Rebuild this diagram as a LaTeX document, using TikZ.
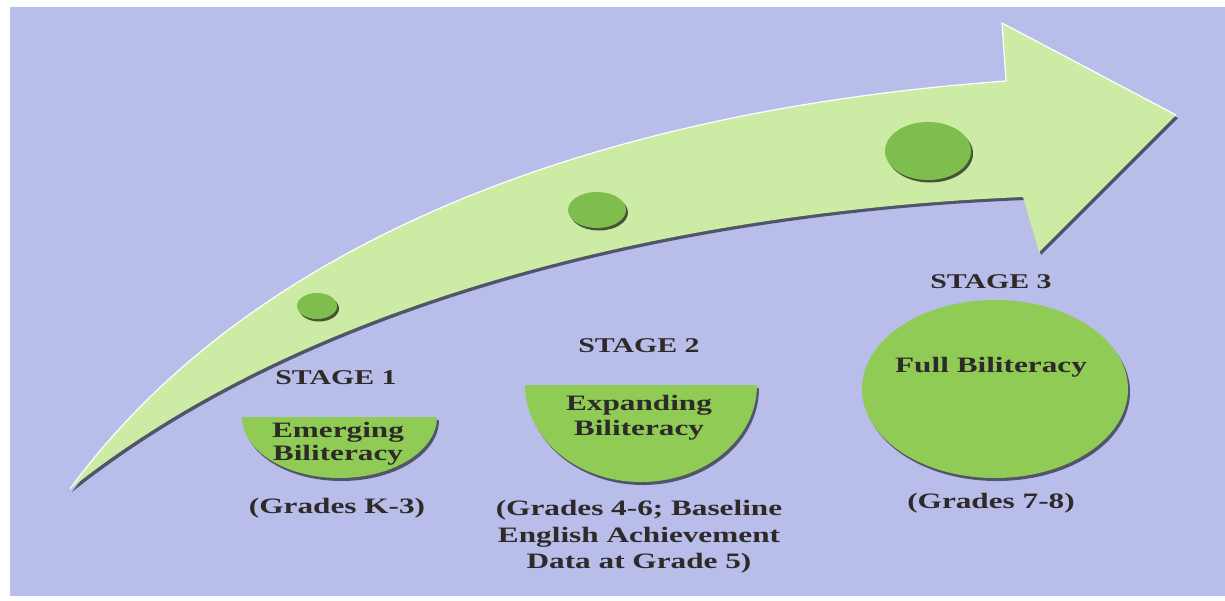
\documentclass[tikz,border=0pt]{standalone}
\usepackage{fontspec}
\setmainfont{Liberation Serif}[FakeStretch=1.42]
\usetikzlibrary{shadows}
\definecolor{panel}{HTML}{B8BDEA}
\definecolor{arrowgreen}{HTML}{CCEBA4}
\definecolor{dotgreen}{HTML}{7DBE4E}
\definecolor{shapegreen}{HTML}{8FCB55}
\definecolor{ink}{HTML}{2E2A2A}
\begin{document}
\begin{tikzpicture}[x=1pt,y=-1pt,
  stagelbl/.style={font=\bfseries\fontsize{21}{21}\selectfont, text=ink, inner sep=0pt, anchor=base},
  bodylbl/.style={font=\bfseries\fontsize{22}{22}\selectfont, text=ink, inner sep=0pt, anchor=base},
  softshadow/.style={drop shadow={shadow xshift=2pt, shadow yshift=-3pt, fill=black, opacity=0.55}},
  dotshadow/.style={drop shadow={shadow xshift=2pt, shadow yshift=-2.5pt, fill=black, opacity=0.65}}]
\useasboundingbox (0,0) rectangle (1225,600);
\fill[white] (0,0) rectangle (1225,600);
\fill[panel] (10,7) rectangle (1225,596);

% curved progress arrow
\path[fill=arrowgreen, softshadow]
  (70,489) .. controls (230,270) and (540,115) .. (1006,81)
  -- (1002,23) -- (1176,115) -- (1039,252) -- (1023,197)
  .. controls (700,210) and (320,290) .. (70,489) -- cycle;
\draw[white, line width=1.2pt, line join=round]
  (70,489) .. controls (230,270) and (540,115) .. (1006,81) -- (1002,23) -- (1176,115);

% milestone dots on the arrow
\fill[dotgreen, dotshadow] (317,306) ellipse [x radius=20, y radius=13];
\fill[dotgreen, dotshadow] (597,210) ellipse [x radius=29, y radius=18];
\fill[dotgreen, dotshadow] (928,151) ellipse [x radius=43, y radius=29];

% stage shapes
\fill[shapegreen, softshadow] (242,417) -- (437,417)
  arc [start angle=0, end angle=180, x radius=97.5, y radius=61] -- cycle;
\fill[shapegreen, softshadow] (525,385) -- (757,385)
  arc [start angle=0, end angle=180, x radius=116, y radius=97] -- cycle;
\fill[shapegreen, softshadow] (995,389) ellipse [x radius=133, y radius=89];

% stage 1
\node[stagelbl] (s1) at (336,384) {STAGE 1};
\node[bodylbl] (s1a) at (338,437) {Emerging};
\node[bodylbl] (s1b) at (338,460) {Biliteracy};
\node[bodylbl] (g1) at (337,513) {(Grades K-3)};

% stage 2
\node[stagelbl] (s2) at (639,352) {STAGE 2};
\node[bodylbl] (s2a) at (639,410) {Expanding};
\node[bodylbl] (s2b) at (639,435) {Biliteracy};
\node[bodylbl] (g2a) at (639,515) {(Grades 4-6; Baseline};
\node[bodylbl] (g2b) at (639,542) {English Achievement};
\node[bodylbl] (g2c) at (639,568) {Data at Grade 5)};

% stage 3
\node[stagelbl] (s3) at (991,288) {STAGE 3};
\node[bodylbl] (s3a) at (991,372) {Full Biliteracy};
\node[bodylbl] (g3) at (991,508) {(Grades 7-8)};
\end{tikzpicture}
\end{document}
